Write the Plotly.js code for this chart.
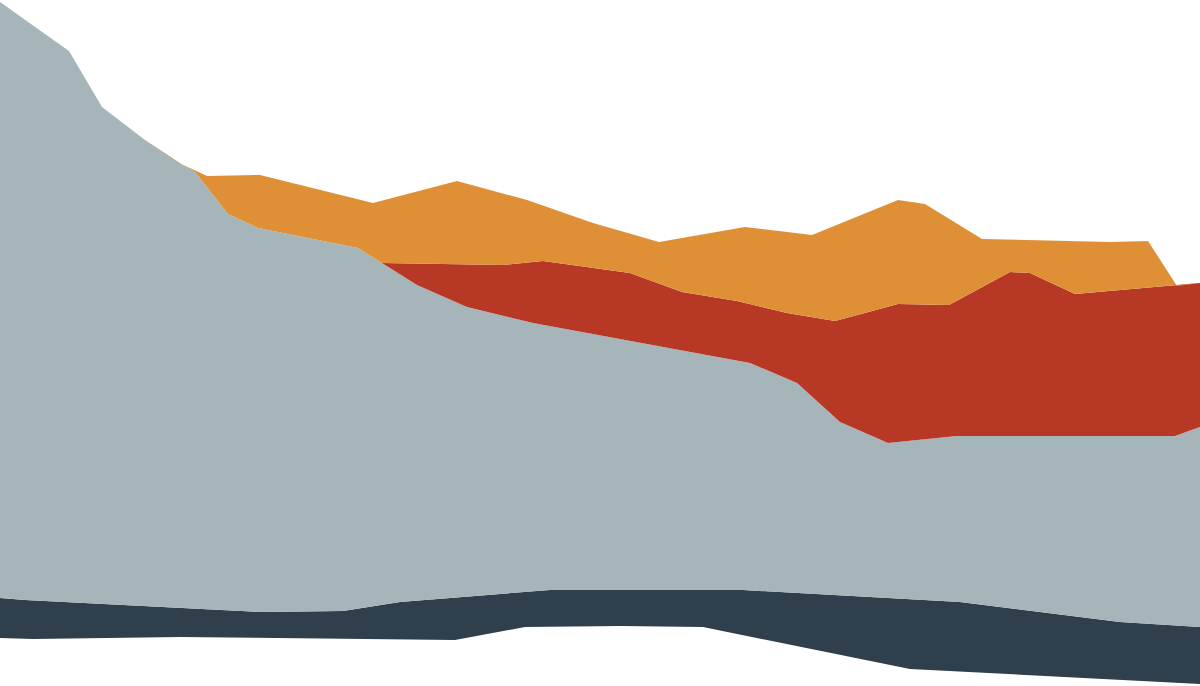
<!DOCTYPE html>
<html>
<head>
<meta charset="utf-8">
<script src="https://cdn.plot.ly/plotly-3.0.1.min.js"></script>
<style>html,body{margin:0;padding:0;background:#fff;}#chart{width:1200px;height:686px;}</style>
</head>
<body>
<div id="chart"></div>
<script>
// Boundary levels of the stacked layers (x position, cumulative value)
const baseX = [0, 33, 180, 455, 525, 620, 703, 800, 910, 1200];
const baseY = [48, 47, 49, 46, 59, 60, 59, 39, 17, 2];

const navyX = [0, 25, 260, 343, 400, 550, 743, 800, 960, 1120, 1200];
const navyY = [88, 86, 74, 75, 84, 96, 96, 93, 84, 64, 59];

const grayX = [0, 69, 102, 145, 178, 195, 228, 258, 358, 382, 417, 467, 533, 750, 797, 840, 888, 957, 1175, 1200];
const grayY = [684, 635, 579, 546, 524, 514, 472, 458, 438, 423, 401, 379, 363, 323, 303, 264, 243, 250, 250, 259];

const redX = [382, 503, 543, 630, 682, 737, 787, 835, 898, 949, 1010, 1030, 1075, 1200];
const redY = [423, 421, 425, 413, 394, 385, 373, 365, 382, 381, 414, 413, 392, 403];

const orangeX = [177, 207, 260, 373, 457, 527, 593, 659, 745, 812, 898, 925, 982, 1110, 1148, 1177];
const orangeY = [524, 510, 511, 483, 505, 486, 463, 444, 459, 451, 486, 482, 447, 444, 445, 400];

const colors = {navy: '#2f3f4c', gray: '#a5b5b9', red: '#b83826', orange: '#df9037'};

// red layer top follows gray top before red begins
const redLineX = [], redLineY = [];
grayX.forEach((x, i) => { if (x < redX[0]) { redLineX.push(x); redLineY.push(grayY[i]); } });
redX.forEach((x, i) => { redLineX.push(x); redLineY.push(redY[i]); });

// orange layer top follows gray before it begins and red after it ends
const orLineX = [], orLineY = [];
grayX.forEach((x, i) => { if (x < orangeX[0]) { orLineX.push(x); orLineY.push(grayY[i]); } });
orangeX.forEach((x, i) => { orLineX.push(x); orLineY.push(orangeY[i]); });
const lastOr = orangeX[orangeX.length - 1];
redX.forEach((x, i) => { if (x > lastOr) { orLineX.push(x); orLineY.push(redY[i]); } });

const noLine = {width: 0};
const traces = [
  {x: baseX, y: baseY, mode: 'lines', line: noLine, hoverinfo: 'skip'},
  {x: navyX, y: navyY, mode: 'lines', line: noLine, fill: 'tonexty', fillcolor: colors.navy, hoverinfo: 'skip'},
  {x: grayX, y: grayY, mode: 'lines', line: noLine, fill: 'tonexty', fillcolor: colors.gray, hoverinfo: 'skip'},
  {x: redLineX, y: redLineY, mode: 'lines', line: noLine, fill: 'tonexty', fillcolor: colors.red, hoverinfo: 'skip'},
  {x: orLineX, y: orLineY, mode: 'lines', line: noLine, fill: 'tonexty', fillcolor: colors.orange, hoverinfo: 'skip'}
];

const layout = {
  width: 1200, height: 686,
  margin: {l: 0, r: 0, t: 0, b: 0, pad: 0},
  paper_bgcolor: '#ffffff', plot_bgcolor: '#ffffff',
  showlegend: false,
  xaxis: {range: [0, 1200], visible: false, fixedrange: true},
  yaxis: {range: [0, 686], visible: false, fixedrange: true}
};

Plotly.newPlot('chart', traces, layout, {displayModeBar: false, staticPlot: true});
</script>
</body>
</html>
